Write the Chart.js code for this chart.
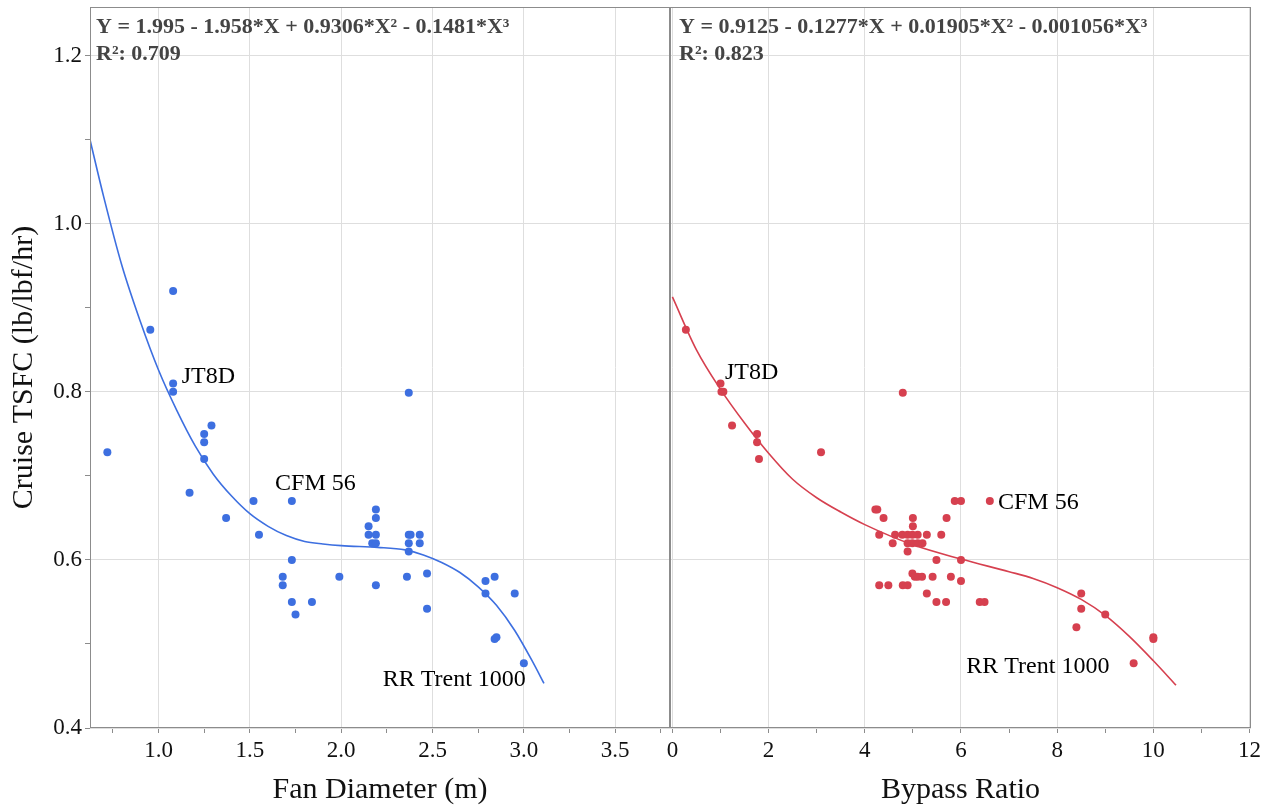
<!DOCTYPE html>
<html>
<head>
<meta charset="utf-8">
<script src="https://cdn.jsdelivr.net/npm/chart.js@4.4.1/dist/chart.umd.min.js"></script>
<style>
  html, body { margin: 0; padding: 0; background: #fff; }
  #wrap { position: relative; width: 1271px; height: 808px; }
  #wrap canvas { position: absolute; left: 0; top: 0; }
</style>
</head>
<body>
<div id="wrap">
  <canvas id="fanChart" width="1271" height="808"></canvas>
  <canvas id="bprChart" width="1271" height="808"></canvas>
</div>
<script>
// Datos: diámetro del fan vs TSFC de crucero
const fanDiameter = [1.08, 0.955, 1.08, 1.08, 1.29, 1.25, 1.25, 1.25, 0.72, 1.17, 1.37, 1.52, 1.73, 1.55,
  1.73, 1.68, 1.68, 1.73, 1.84, 1.75, 1.99, 2.37, 2.19, 2.19, 2.15, 2.15, 2.19, 2.17, 2.19, 2.19,
  2.37, 2.38, 2.37, 2.43, 2.43, 2.37, 2.36, 2.47, 2.47, 2.79, 2.84, 2.79, 2.95, 2.84, 2.85, 3.0];
const fanTsfc = [0.92, 0.874, 0.81, 0.80, 0.76, 0.75, 0.74, 0.72, 0.728, 0.68, 0.65, 0.67, 0.67, 0.63,
  0.60, 0.58, 0.57, 0.55, 0.55, 0.535, 0.58, 0.799, 0.66, 0.65, 0.64, 0.63, 0.63, 0.62, 0.62, 0.57,
  0.63, 0.63, 0.62, 0.63, 0.62, 0.61, 0.58, 0.584, 0.542, 0.575, 0.58, 0.56, 0.56, 0.506, 0.508, 0.477];

// Curva de ajuste
const fanFitX = [0.625, 0.7, 0.8, 0.9, 1.0, 1.1, 1.2, 1.3, 1.4, 1.5, 1.6, 1.7, 1.8, 1.9,
  2.0, 2.2, 2.35, 2.45, 2.55, 2.65, 2.75, 2.85, 2.95, 3.05, 3.11];
const fanFitY = [1.10, 1.032, 0.95, 0.884, 0.826, 0.778, 0.736, 0.702, 0.676, 0.655, 0.64, 0.629, 0.622, 0.619,
  0.617, 0.615, 0.612, 0.606, 0.597, 0.585, 0.568, 0.546, 0.516, 0.478, 0.453];

// Datos: relación de bypass vs TSFC de crucero
const bypassRatio = [0.28, 1.0, 1.02, 1.06, 1.24, 1.76, 1.76, 1.8, 3.09, 4.79,
  4.22, 4.26, 4.39, 4.3, 4.63, 4.58, 4.78, 4.89, 4.99, 5.1, 5.0, 5.0, 4.89, 4.99, 5.1, 5.2, 4.89,
  5.29, 5.59, 5.7, 5.87, 6.0, 6.6, 5.49, 6.0, 4.99, 5.04, 5.1, 5.19, 5.41, 5.79, 6.0,
  4.3, 4.49, 4.79, 4.89, 5.29, 5.49, 5.69, 6.39, 6.49, 8.5, 8.5, 9.0, 8.4, 10.0, 10.0, 9.59];
const bypassTsfc = [0.874, 0.81, 0.80, 0.80, 0.76, 0.75, 0.74, 0.72, 0.728, 0.799,
  0.66, 0.66, 0.65, 0.63, 0.63, 0.62, 0.63, 0.63, 0.63, 0.63, 0.65, 0.64, 0.62, 0.62, 0.62, 0.62, 0.61,
  0.63, 0.63, 0.65, 0.67, 0.67, 0.67, 0.60, 0.60, 0.584, 0.58, 0.58, 0.58, 0.58, 0.58, 0.575,
  0.57, 0.57, 0.57, 0.57, 0.56, 0.55, 0.55, 0.55, 0.55, 0.56, 0.542, 0.535, 0.52, 0.508, 0.506, 0.477];

const bprFitX = [0.0, 0.5, 1.0, 1.5, 2.0, 2.5, 3.0, 3.5, 4.0, 5.0, 6.0, 7.0, 7.5, 8.0,
  8.5, 9.0, 9.5, 10.0, 10.47];
const bprFitY = [0.913, 0.85, 0.803, 0.763, 0.727, 0.696, 0.674, 0.657, 0.642, 0.618, 0.601, 0.586, 0.578, 0.567,
  0.553, 0.534, 0.509, 0.48, 0.451];

// Ecuaciones y etiquetas
const fanEquation = ['Y = 1.995 - 1.958*X + 0.9306*X\u00B2 - 0.1481*X\u00B3', 'R\u00B2: 0.709'];
const bprEquation = ['Y = 0.9125 - 0.1277*X + 0.01905*X\u00B2 - 0.001056*X\u00B3', 'R\u00B2: 0.823'];
const engineNames = ['JT8D', 'CFM 56', 'RR Trent 1000'];
const fanLabelAt = [[1.127, 0.81], [1.638, 0.683], [2.227, 0.4495]];
const bprLabelAt = [[1.092, 0.8155], [6.77, 0.661], [6.11, 0.4655]];

const SERIF = "'Liberation Serif', 'Times New Roman', serif";
const BLUE = '#3d6fe0';
const RED = '#d6404f';

Chart.defaults.font.family = SERIF;
Chart.defaults.animation = false;

function toPoints(xs, ys) {
  return xs.map((x, i) => ({ x: x, y: ys[i] }));
}

// Marco del panel, ecuación y nombres de motores
const panelDecor = {
  id: 'panelDecor',
  afterDraw(chart, args, opts) {
    const { ctx, chartArea: a } = chart;
    const xs = chart.scales.x, ys = chart.scales.y;
    ctx.save();
    ctx.strokeStyle = '#8c8c8c';
    ctx.lineWidth = 1;
    ctx.strokeRect(a.left + 0.5, a.top + 0.5, a.right - a.left - 1, a.bottom - a.top - 1);

    ctx.fillStyle = '#444';
    ctx.font = 'bold 22px ' + SERIF;
    ctx.textBaseline = 'alphabetic';
    opts.equation.forEach((t, i) => ctx.fillText(t, a.left + opts.eqOffset, a.top + 26 + i * 27));

    ctx.fillStyle = '#000';
    ctx.font = '24px ' + SERIF;
    opts.names.forEach((n, i) => {
      ctx.fillText(n, xs.getPixelForValue(opts.at[i][0]), ys.getPixelForValue(opts.at[i][1]));
    });
    ctx.restore();
  }
};

const tickFont = { family: SERIF, size: 23 };
const titleFont = { family: SERIF, size: 30 };

function yAxis(showLabels) {
  return {
    type: 'linear',
    min: 0.4,
    max: 1.258,
    border: { display: false },
    grid: {
      color: c => (Math.round(c.tick.value * 10) % 2 === 0 ? '#dedede' : 'rgba(0,0,0,0)'),
      tickColor: '#8c8c8c',
      tickLength: 5,
      drawTicks: showLabels
    },
    ticks: {
      display: showLabels,
      stepSize: 0.1,
      includeBounds: false,
      autoSkip: false,
      padding: 3,
      color: '#111',
      font: tickFont,
      callback: v => (Math.round(v * 10) % 2 === 0 ? v.toFixed(1) : '')
    },
    title: {
      display: showLabels,
      text: 'Cruise TSFC (lb/lbf/hr)',
      color: '#111',
      font: titleFont,
      padding: { top: 6, bottom: 2 }
    },
    afterFit: s => {
      s.width = showLabels ? 90 : 0;
      s.paddingTop = 0;
      s.paddingBottom = 0;
    }
  };
}

function xAxis(min, max, step, majorEvery, digits, title) {
  const isMajor = v => Math.abs(Math.round(v / majorEvery) * majorEvery - v) < 1e-6;
  return {
    type: 'linear',
    min: min,
    max: max,
    border: { display: false },
    grid: {
      color: c => (isMajor(c.tick.value) ? '#dedede' : 'rgba(0,0,0,0)'),
      tickColor: '#8c8c8c',
      tickLength: 5
    },
    ticks: {
      stepSize: step,
      includeBounds: false,
      autoSkip: false,
      maxRotation: 0,
      padding: 4,
      color: '#111',
      font: tickFont,
      callback: v => (isMajor(v) ? v.toFixed(digits) : '')
    },
    title: {
      display: true,
      text: title,
      color: '#111',
      font: titleFont,
      padding: { top: 0, bottom: 0 }
    },
    afterFit: s => { s.height = 80; }
  };
}

function buildChart(id, cfg) {
  return new Chart(document.getElementById(id), {
    type: 'scatter',
    data: {
      datasets: [
        {
          data: toPoints(cfg.fitX, cfg.fitY),
          showLine: true,
          borderColor: cfg.color,
          borderWidth: 1.6,
          pointRadius: 0,
          cubicInterpolationMode: 'monotone'
        },
        {
          data: toPoints(cfg.px, cfg.py),
          backgroundColor: cfg.color,
          borderWidth: 0,
          pointRadius: 4
        }
      ]
    },
    options: {
      responsive: false,
      events: [],
      layout: { padding: cfg.padding },
      plugins: {
        legend: { display: false },
        tooltip: { enabled: false },
        panelDecor: { equation: cfg.equation, eqOffset: cfg.eqOffset, names: engineNames, at: cfg.labelAt }
      },
      scales: {
        x: cfg.x,
        y: yAxis(cfg.showY)
      }
    },
    plugins: [panelDecor]
  });
}

buildChart('fanChart', {
  px: fanDiameter, py: fanTsfc, fitX: fanFitX, fitY: fanFitY,
  color: BLUE, equation: fanEquation, eqOffset: 6, labelAt: fanLabelAt, showY: true,
  padding: { left: 0, top: 7, right: 601, bottom: 0 },
  x: xAxis(0.625, 3.8, 0.25, 0.5, 1, 'Fan Diameter (m)')
});

buildChart('bprChart', {
  px: bypassRatio, py: bypassTsfc, fitX: bprFitX, fitY: bprFitY,
  color: RED, equation: bprEquation, eqOffset: 9, labelAt: bprLabelAt, showY: false,
  padding: { left: 670, top: 7, right: 20, bottom: 0 },
  x: xAxis(-0.05, 12.03, 1, 2, 0, 'Bypass Ratio')
});
</script>
</body>
</html>
